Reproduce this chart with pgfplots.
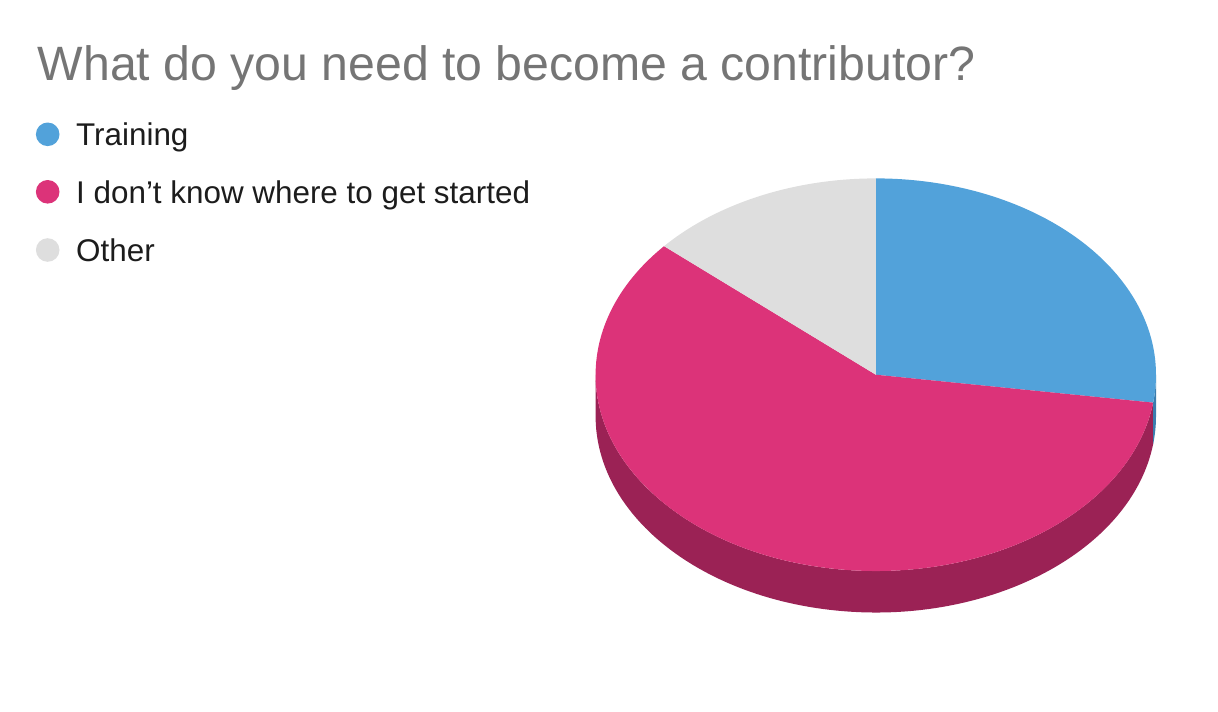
\documentclass[border=0pt]{standalone}
\usepackage{pgfplots}
\pgfplotsset{compat=1.18}
\usepackage{pgfplotstable}
\usepackage{fontspec}
\setmainfont{Liberation Sans}
\definecolor{cTrain}{HTML}{52A2DA}
\definecolor{cStart}{HTML}{DC3379}
\definecolor{cOther}{HTML}{DEDEDE}
\definecolor{sTrain}{HTML}{3B7DAE}
\definecolor{sStart}{HTML}{9B2255}
\definecolor{titlegray}{HTML}{757575}
\definecolor{legtext}{HTML}{1C1C1C}

\pgfplotstableread{
key value
Training 6
Start 13
Other 3
}\piedata

\begin{document}
\begin{tikzpicture}
\pgfplotstablegetelem{0}{value}\of\piedata \let\vA\pgfplotsretval
\pgfplotstablegetelem{1}{value}\of\piedata \let\vB\pgfplotsretval
\pgfplotstablegetelem{2}{value}\of\piedata \let\vC\pgfplotsretval
\pgfmathsetmacro\tot{\vA+\vB+\vC}
\pgfmathsetmacro\aA{90}
\pgfmathsetmacro\aB{\aA-360*\vA/\tot}
\pgfmathsetmacro\aC{\aB-360*\vB/\tot}
\pgfmathsetmacro\aD{\aC-360*\vC/\tot}
\def\cx{875.8}
\def\cy{374.7}
\def\rx{280.2}
\def\ry{196.3}
\def\dd{41.5}
\begin{axis}[
  width=1218pt, height=712pt, scale only axis,
  xmin=0, xmax=1218, ymin=0, ymax=712, y dir=reverse,
  hide axis, clip=false]
% side walls (front half only)
\fill[sStart] (axis cs:\cx,\cy) ++(-180:\rx pt and \ry pt)
  arc[start angle=-180, end angle=\aB, x radius=\rx pt, y radius=\ry pt]
  -- ++(0pt,-\dd pt)
  arc[start angle=\aB, end angle=-180, x radius=\rx pt, y radius=\ry pt] -- cycle;
\fill[sTrain] (axis cs:\cx,\cy) ++(\aB:\rx pt and \ry pt)
  arc[start angle=\aB, end angle=0, x radius=\rx pt, y radius=\ry pt]
  -- ++(0pt,-\dd pt)
  arc[start angle=0, end angle=\aB, x radius=\rx pt, y radius=\ry pt] -- cycle;
% top slices
\fill[cTrain] (axis cs:\cx,\cy) -- ++(\aA:\rx pt and \ry pt)
  arc[start angle=\aA, end angle=\aB, x radius=\rx pt, y radius=\ry pt] -- cycle;
\fill[cStart] (axis cs:\cx,\cy) -- ++(\aB:\rx pt and \ry pt)
  arc[start angle=\aB, end angle=\aC, x radius=\rx pt, y radius=\ry pt] -- cycle;
\fill[cOther] (axis cs:\cx,\cy) -- ++(\aC:\rx pt and \ry pt)
  arc[start angle=\aC, end angle=\aD, x radius=\rx pt, y radius=\ry pt] -- cycle;
% title
\node[anchor=base west, inner sep=0pt, text=titlegray, font=\fontsize{48.2}{58}\selectfont]
  at (axis cs:37.5,81.0) {What do you need to become a contributor?};
% legend
\fill[cTrain] (axis cs:47.7,134.3) circle[radius=11.8pt];
\fill[cStart] (axis cs:47.7,191.8) circle[radius=11.8pt];
\fill[cOther] (axis cs:47.7,250.0) circle[radius=11.8pt];
\node[anchor=base west, inner sep=0pt, text=legtext, font=\fontsize{31.4}{38}\selectfont]
  at (axis cs:76.0,145.4) {Training};
\node[anchor=base west, inner sep=0pt, text=legtext, font=\fontsize{31.4}{38}\selectfont]
  at (axis cs:76.0,203.0) {I don’t know where to get started};
\node[anchor=base west, inner sep=0pt, text=legtext, font=\fontsize{31.4}{38}\selectfont]
  at (axis cs:76.0,261.0) {Other};
\end{axis}
\pgfresetboundingbox
\useasboundingbox (current axis.south west) rectangle (current axis.north east);
\end{tikzpicture}
\end{document}
